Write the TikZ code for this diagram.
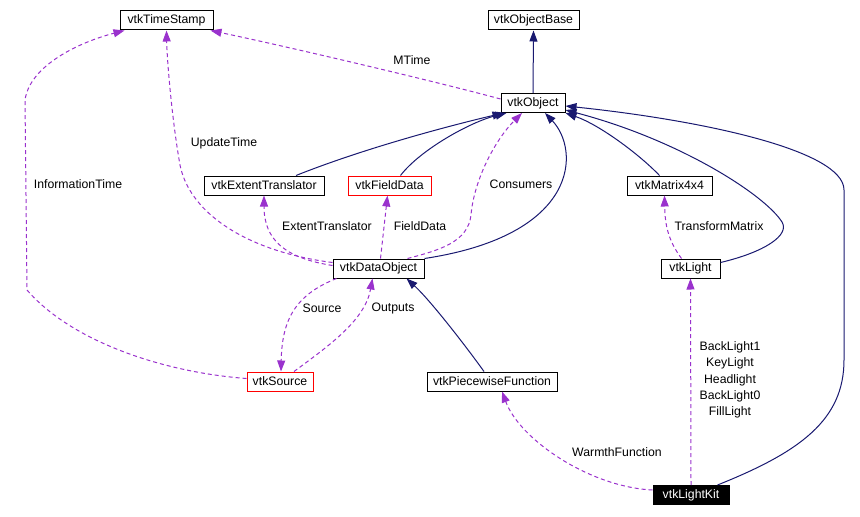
\documentclass[tikz,border=0pt]{standalone}
\usepackage{fontspec}
\setmainfont{Liberation Sans}
\usetikzlibrary{arrows.meta,calc}
\definecolor{navyc}{HTML}{191970}
\definecolor{purpc}{HTML}{9A32CD}
\begin{document}
\begin{tikzpicture}[x=0.75pt,y=-0.75pt,
  every node/.style={font=\fontsize{9.2}{11}\selectfont},
  cls/.style={draw=black,fill=white,line width=0.75pt,minimum height=14.25pt,inner xsep=1pt,inner ysep=0pt},
  redcls/.style={cls,draw=red},
  inh/.style={draw=navyc,line width=0.75pt,-{Triangle[length=8.25pt,width=6pt]}},
  use/.style={draw=purpc,line width=0.75pt,dash pattern=on 3pt off 2.25pt,-{Triangle[length=8.25pt,width=6pt]}},
  lbl/.style={inner sep=0pt}]
\useasboundingbox (0,0) rectangle (860,517);
% nodes
\node[cls,minimum width=69.75pt] (ts) at (166.5,20.5) {vtkTimeStamp};
\node[cls,minimum width=68.25pt] (objbase) at (533.5,20.5) {vtkObjectBase};
\node[cls,minimum width=48pt] (obj) at (533,103) {vtkObject};
\node[cls,minimum width=90pt] (ext) at (264,185.5) {vtkExtentTranslator};
\node[redcls,minimum width=62.25pt] (fd) at (389.5,185.5) {vtkFieldData};
\node[cls,minimum width=63.75pt] (mat) at (669.5,185.5) {vtkMatrix4x4};
\node[cls,minimum width=68.25pt] (dobj) at (378.5,268.5) {vtkDataObject};
\node[cls,minimum width=44.25pt] (light) at (690.5,268.5) {vtkLight};
\node[redcls,minimum width=49.5pt] (src) at (280,381.5) {vtkSource};
\node[cls,minimum width=97.5pt] (pw) at (492,381.5) {vtkPiecewiseFunction};
\node[cls,fill=black,text=white,minimum width=57pt] (kit) at (691,495) {vtkLightKit};
% inheritance / solid
\draw[inh] (obj.north) -- (objbase.south);
\draw[inh] ($(ext.north)+(32,0)$) .. controls (360,150) and (440,128) .. ($(obj.south west)+(3,0)$);
\draw[inh] ($(fd.north)+(11,0)$) .. controls (420,150) and (470,122) .. ($(obj.south west)+(6,0)$);
\draw[inh] (dobj.north east) .. controls (580,235) and (580,150) .. ($(obj.south)+(12,0)$);
\draw[inh] ($(mat.north)+(-10,0)$) .. controls (640,155) and (600,125) .. (obj.south east);
\draw[inh] ($(light.east)+(0,-6)$) .. controls (765,252) and (790,235) .. (782,222) .. controls (765,195) and (680,140) .. ($(obj.east)+(0,7)$);
\draw[inh] ($(kit.north east)+(-12,0)$) .. controls (800,452) and (844,420) .. (844,360) -- (844,190) .. controls (844,150) and (700,120) .. ($(obj.east)+(0,3)$);
\draw[inh] ($(pw.north)+(-8,0)$) .. controls (465,345) and (430,300) .. ($(dobj.south east)+(-18,0)$);
% usage / dashed
\draw[use] ($(obj.west)+(0,-4)$) .. controls (430,80) and (280,45) .. ($(ts.south east)+(-3,0)$);
\draw[use] ($(dobj.west)+(0,-6)$) .. controls (250,252) and (190,215) .. (180,165) .. controls (172,120) and (167,60) .. (ts.south);
\draw[use] ($(src.west)+(0,-3)$) .. controls (160,372) and (70,340) .. (27,290) -- (25,100) .. controls (30,65) and (80,42) .. ($(ts.south west)+(5,0)$);
\draw[use] ($(dobj.west)+(0,-3)$) .. controls (285,258) and (264,240) .. (ext.south);
\draw[use] ($(dobj.north)+(2,0)$) -- ($(fd.south)+(-2,0)$);
\draw[use] ($(dobj.north east)+(-17,0)$) .. controls (440,250) and (468,242) .. (471,215) .. controls (474,180) and (495,140) .. ($(obj.south)+(-11,0)$);
\draw[use] ($(dobj.south west)+(4,0)$) .. controls (295,295) and (282,320) .. ($(src.north)+(1,0)$);
\draw[use] ($(src.north)+(14,0)$) .. controls (330,345) and (365,320) .. ($(dobj.south)+(-6,0)$);
\draw[use] ($(light.north)+(-9,0)$) .. controls (668,240) and (665,225) .. ($(mat.south)+(-5,0)$);
\draw[use] (kit.north) -- (light.south);
\draw[use] ($(kit.west)+(0,-5)$) .. controls (590,487) and (520,440) .. ($(pw.south)+(10,0)$);
% labels
\node[lbl] (lmtime) at (412,60) {MTime};
\node[lbl] (lupd) at (224,143) {UpdateTime};
\node[lbl] (linfo) at (78,184) {InformationTime};
\node[lbl] (lext) at (327,226) {ExtentTranslator};
\node[lbl] (lfd) at (420,226) {FieldData};
\node[lbl] (lcons) at (521,184) {Consumers};
\node[lbl] (ltm) at (719,226) {TransformMatrix};
\node[lbl] (lsrc) at (322,308) {Source};
\node[lbl] (lout) at (393,308) {Outputs};
\node[lbl,align=center] (llights) at (730,380) {BackLight1\\[1.2pt]KeyLight\\[1.2pt]Headlight\\[1.2pt]BackLight0\\[1.2pt]FillLight};
\node[lbl] (lwarm) at (617,452) {WarmthFunction};
\end{tikzpicture}
\end{document}
